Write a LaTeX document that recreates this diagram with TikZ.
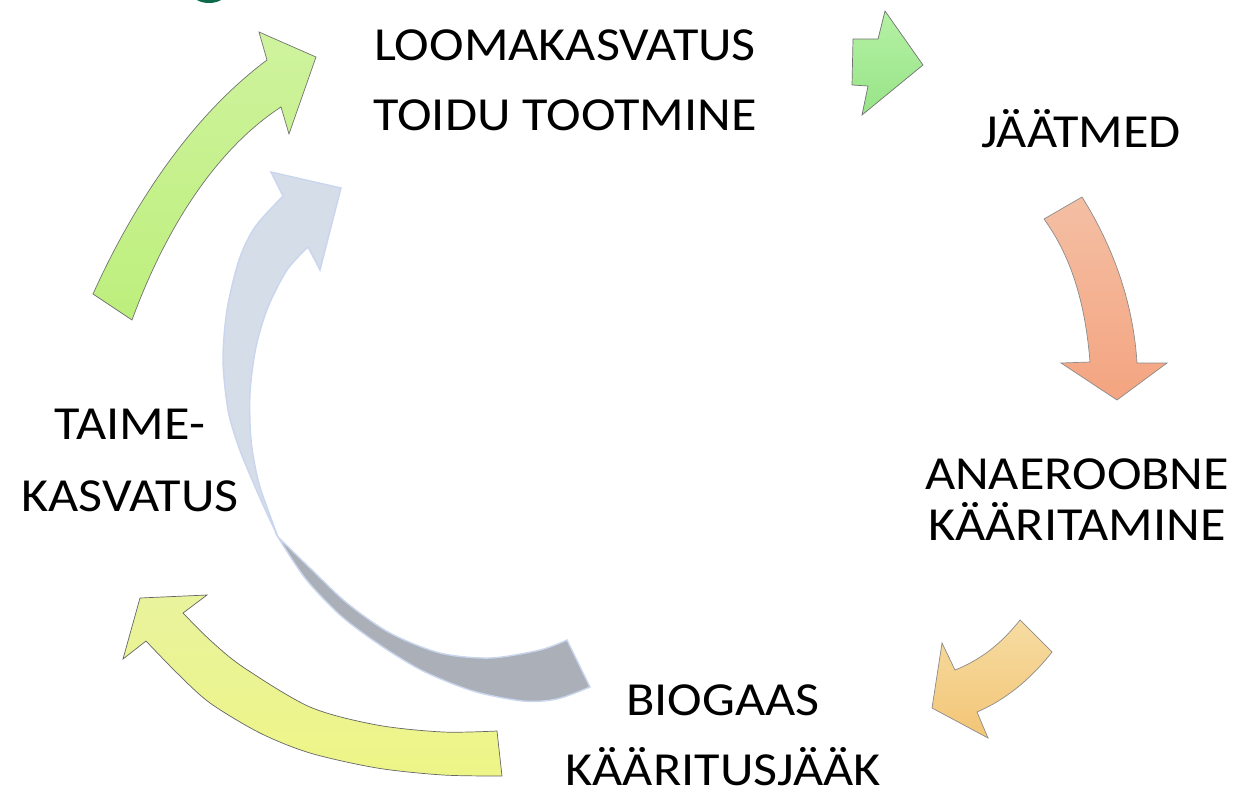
\documentclass[tikz,border=0pt]{standalone}
\usepackage{fontspec}
\setmainfont{Carlito}[FakeStretch=1.10]
\definecolor{limetop}{HTML}{CFF39E}
\definecolor{limebot}{HTML}{BDEF7C}
\definecolor{mintop}{HTML}{B4F1A4}
\definecolor{minbot}{HTML}{98E488}
\definecolor{salmtop}{HTML}{F4BFA4}
\definecolor{salmbot}{HTML}{F4A480}
\definecolor{oratop}{HTML}{F6DCA2}
\definecolor{orabot}{HTML}{F3C576}
\definecolor{yeltop}{HTML}{E9F39C}
\definecolor{yelbot}{HTML}{EEF587}
\definecolor{greylight}{HTML}{D5DDE9}
\definecolor{greydark}{HTML}{ABB0B8}
\definecolor{greyedge}{HTML}{C9D6EE}
\definecolor{logogreen}{HTML}{0E6B4A}
\usetikzlibrary{positioning}

\begin{document}
\begin{tikzpicture}[x=0.02cm,y=-0.02cm]
        \tikzset{
          arr/.style={line width=0.4pt, line join=miter},
          lbl/.style={inner sep=0pt, align=center, font=\fontsize{27}{40}\selectfont}
        }
        \useasboundingbox (0,0) rectangle (1236,801);
        \clip (0,0) rectangle (1236,801);
        % green blob cut by the top edge
        \fill [logogreen] (209,-7) ellipse [x radius=0.34cm, y radius=0.2cm];
        % plant growing -> animals
        \shadedraw [arr, draw=black!55, top color=limetop, bottom color=limebot]
          (93,294) .. controls (140,190) and (200,110) .. (267,60)
          -- (259,32) -- (316,57) -- (289,134) -- (281,107)
          .. controls (215,150) and (165,230) .. (132,320) -- cycle;
        % animals -> waste
        \shadedraw [arr, draw=black!55, top color=mintop, bottom color=minbot]
          (853,39) -- (878,39) -- (885,11) -- (923,65) -- (862,115) -- (868,86) -- (852,85) -- cycle;
        % waste -> digestion
        \shadedraw [arr, draw=black!45, top color=salmtop, bottom color=salmbot]
          (1044,219) -- (1082,197)
          .. controls (1112,245) and (1133,300) .. (1137,363)
          -- (1167,363) -- (1117,400) -- (1061,363) -- (1090,362)
          .. controls (1085,300) and (1070,255) .. cycle;
        % digestion -> biogas
        \shadedraw [arr, draw=black!45, top color=oratop, bottom color=orabot]
          (1020,620) -- (1052,652)
          .. controls (1030,680) and (1005,700) .. (977,712)
          -- (988,738) -- (932,708) -- (942,643) -- (955,670)
          .. controls (980,660) and (1000,645) .. cycle;
        % biogas -> plant growing
        \shadedraw [arr, draw=black!60, top color=yeltop, bottom color=yelbot]
          (140,598) -- (207,595) -- (183,613)
          -- plot [smooth] coordinates {(183,613) (210,640) (243,667) (310,707) (377,725) (443,732) (497,731)}
          -- (502,776)
          -- plot [smooth] coordinates {(502,776) (443,775) (377,768) (310,753) (260,733) (210,703) (177,673) (146,641)}
          -- (123,659) -- cycle;
        % digestate -> animals (back side)
        \filldraw [arr, line width=0.8pt, draw=greyedge, fill=greydark]
          plot [smooth] coordinates {(278,537) (305,578) (340,615) (380,645) (423,671) (473,691) (523,701) (557,699) (590,687)}
          -- (567,640)
          -- plot [smooth] coordinates {(567,640) (540,650) (490,658) (440,653) (390,633) (347,603) (310,568) (278,537)}
          -- cycle;
        % digestate -> animals (front side)
        \filldraw [arr, line width=0.8pt, draw=greyedge, fill=greylight]
          (283,196) -- (271,172) -- (341,188) -- (320,270) -- (308,247)
          -- plot [smooth] coordinates {(308,247) (287,270) (268,307) (256,347) (250,393) (251,440) (258,480) (268,510) (278,537)}
          -- plot [smooth] coordinates {(278,537) (264,507) (250,475) (238,445) (228,410) (223,360) (227,310) (239,260) (255,227) (283,196)}
          -- cycle;
        % labels
        \node [lbl] (loom) at (565,80) {LOOMAKASVATUS\\TOIDU TOOTMINE};
        \node [lbl, anchor=base] (jaat) at (1081,147) {JÄÄTMED};
        \node [lbl, font=\fontsize{27}{29}\selectfont] (anae) at (1077,500) {ANAEROOBNE\\KÄÄRITAMINE};
        \node [lbl, font=\fontsize{27}{40}\selectfont] (biog) at (723,735) {BIOGAAS\\KÄÄRITUSJÄÄK};
        \node [lbl, font=\fontsize{27}{41}\selectfont] (taim) at (130,460) {TAIME-\\KASVATUS};
\end{tikzpicture}
\end{document}
